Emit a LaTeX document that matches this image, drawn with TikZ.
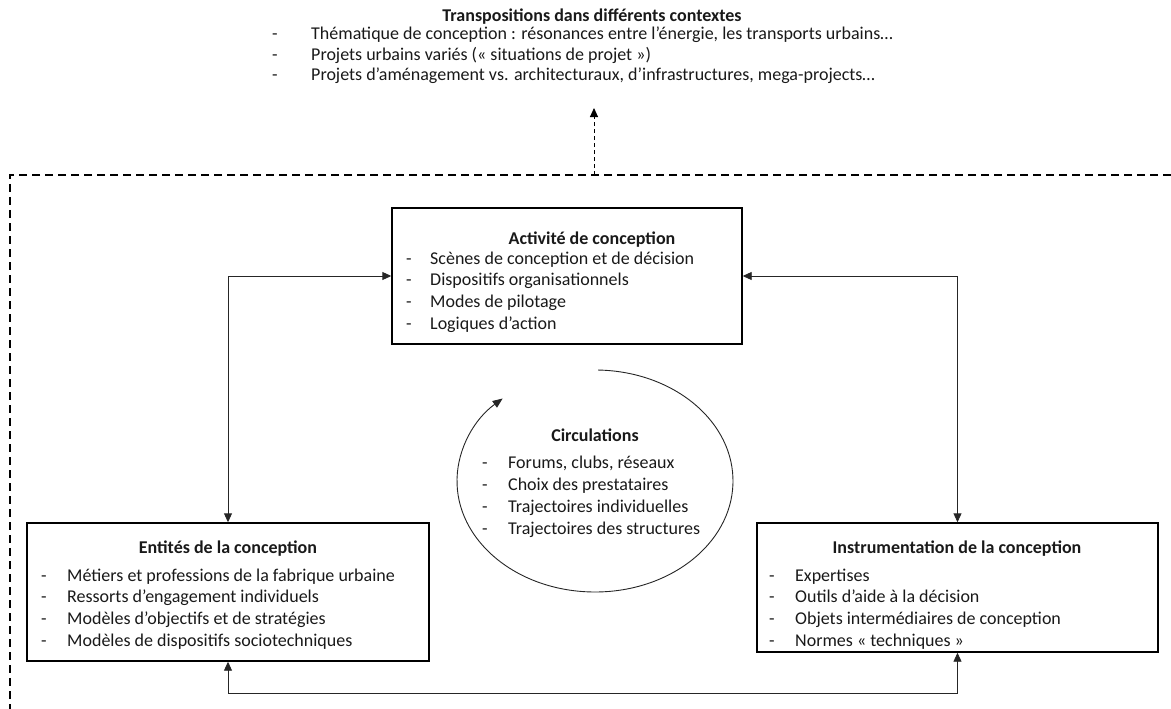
\documentclass[tikz,border=0pt]{standalone}
\usepackage{fontspec}
\setmainfont{Carlito}
\usetikzlibrary{arrows.meta}
\begin{document}
\begin{tikzpicture}[x=1pt,y=-1pt,
  box/.style={draw=black, line width=1.4pt, rectangle, inner sep=0pt},
  conn/.style={draw=black!85, line width=0.9pt, {Triangle[length=9pt,width=8pt]}-{Triangle[length=9pt,width=8pt]}},
  txt/.style={inner sep=0pt, anchor=base west, font=\fontsize{18}{22}\selectfont, text=black!90},
  ttl/.style={inner sep=0pt, anchor=base, font=\fontsize{18}{22}\selectfont\bfseries, text=black!90},
  frame/.style={draw=black, line width=1.5pt, dash pattern=on 8pt off 5pt},
  dasharrow/.style={draw=black, line width=0.9pt, dash pattern=on 4pt off 3pt, -{Triangle[length=9pt,width=8pt]}}
]
\useasboundingbox (0,0) rectangle (1171,709);

% top text
\node[ttl] (topT) at (592,22) {Transpositions dans différents contextes};
\foreach \t [count=\i from 0] in {{Thématique de conception : résonances entre l’énergie, les transports urbains…},
  {Projets urbains variés (« situations de projet »)},
  {Projets d’aménagement vs. architecturaux, d’infrastructures, mega-projects…}}
{ \node[txt] (topD-\i) at (272,40+20.5*\i) {-};
  \node[txt] (top-\i) at (311,40+20.5*\i) {\t}; }

% dashed frame and arrow
\draw[frame] (1171,175) -- (10,175) -- (10,709);
\coordinate (fr) at (594,175);
\coordinate (tip) at (594,108);
\draw[dasharrow] (fr) -- (tip);

% boxes
\node[box, minimum width=350pt, minimum height=136pt] (act) at (567,276) {};
\node[box, minimum width=402pt, minimum height=138pt] (ent) at (228,592) {};
\node[box, minimum width=401pt, minimum height=129pt] (ins) at (957.5,587.5) {};

% Activité text
\node[ttl] (actT) at (592,244) {Activité de conception};
\foreach \t [count=\i from 0] in {Scènes de conception et de décision, Dispositifs organisationnels, Modes de pilotage, Logiques d’action}
{ \node[txt] (actD-\i) at (406,264+21.8*\i) {-};
  \node[txt] (act-\i) at (430,264+21.8*\i) {\t}; }

% Entités text
\node[ttl] (entT) at (228,553) {Entités de la conception};
\foreach \t [count=\i from 0] in {Métiers et professions de la fabrique urbaine, Ressorts d’engagement individuels, Modèles d’objectifs et de stratégies, Modèles de dispositifs sociotechniques}
{ \node[txt] (entD-\i) at (41,581+21.7*\i) {-};
  \node[txt] (ent-\i) at (67,581+21.7*\i) {\t}; }

% Instrumentation text
\node[ttl] (insT) at (957,553) {Instrumentation de la conception};
\foreach \t [count=\i from 0] in {Expertises, Outils d’aide à la décision, Objets intermédiaires de conception, Normes « techniques »}
{ \node[txt] (insD-\i) at (769,581+21.7*\i) {-};
  \node[txt] (ins-\i) at (795,581+21.7*\i) {\t}; }

% Circulations
\node[ttl] (cirT) at (595,441) {Circulations};
\foreach \t [count=\i from 0] in {{Forums, clubs, réseaux}, Choix des prestataires, Trajectoires individuelles, Trajectoires des structures}
{ \node[txt] (cirD-\i) at (482,468+22*\i) {-};
  \node[txt] (cir-\i) at (508,468+22*\i) {\t}; }
\coordinate (cc) at (595,481);
\draw[draw=black!85, line width=0.9pt, -{Triangle[length=10pt,width=8pt]}]
  ([shift={(88.75:138pt and 111pt)}]cc) arc[start angle=88.75, end angle=-228, x radius=138pt, y radius=111pt];

% connectors
\draw[conn] (ent.north) |- (act.west);
\draw[conn] (ins.north) |- (act.east);
\draw[conn] (ent.south) -- ++(0,32) -| (ins.south);
\end{tikzpicture}
\end{document}
